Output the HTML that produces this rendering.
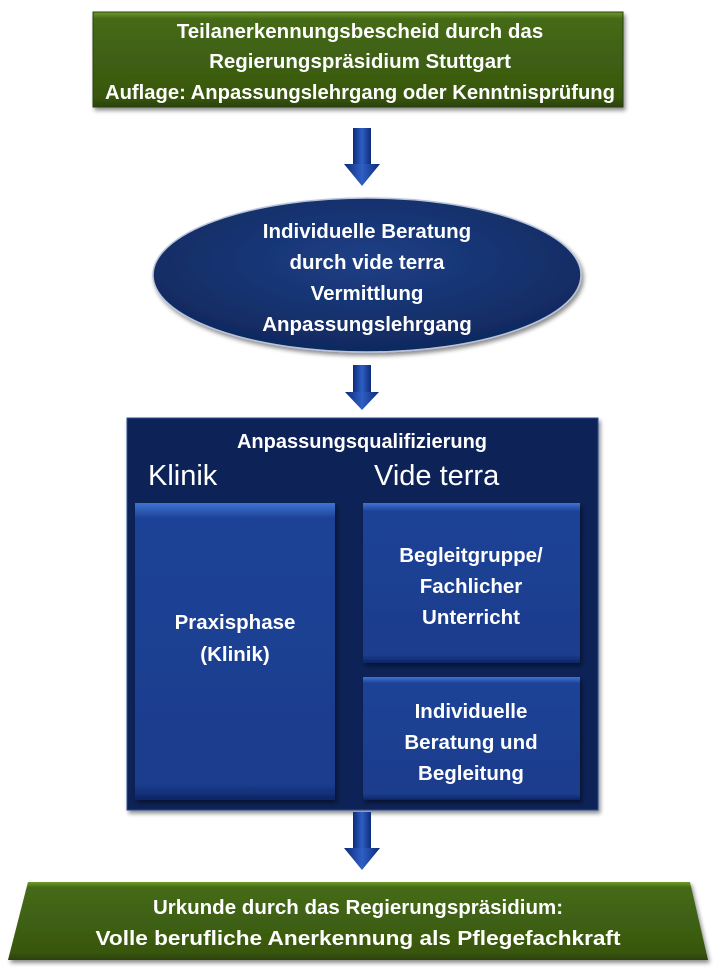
<!DOCTYPE html>
<html><head><meta charset="utf-8"><style>
html,body{margin:0;padding:0;background:#fff;}
svg text{font-family:"Liberation Sans",sans-serif;font-weight:bold;fill:#fff;text-anchor:middle;}
</style></head><body>
<svg width="716" height="970" viewBox="0 0 716 970" xmlns="http://www.w3.org/2000/svg">
<defs>
<linearGradient id="g" x1="0" y1="0" x2="0" y2="1">
<stop offset="0" stop-color="#6f9a2a"/><stop offset="0.07" stop-color="#456a16"/><stop offset="0.9" stop-color="#38570f"/><stop offset="1" stop-color="#2a4108"/></linearGradient>
<linearGradient id="b" x1="0" y1="0" x2="0" y2="1">
<stop offset="0" stop-color="#3f74d4"/><stop offset="0.05" stop-color="#1e4397"/><stop offset="0.95" stop-color="#1a3c8c"/><stop offset="1" stop-color="#0d2566"/></linearGradient>
<linearGradient id="a" x1="0" y1="0" x2="1" y2="0">
<stop offset="0" stop-color="#0c2a7a"/><stop offset="0.5" stop-color="#2e5fc4"/><stop offset="1" stop-color="#0c2a7a"/></linearGradient>
<radialGradient id="e" cx="0.5" cy="0.4" r="0.6">
<stop offset="0" stop-color="#1e3f86"/><stop offset="1" stop-color="#10295f"/></radialGradient>
<filter id="s" x="-5%" y="-5%" width="110%" height="115%"><feDropShadow dx="2" dy="3" stdDeviation="2" flood-opacity="0.45"/></filter>
<g id="arr"><rect x="-9" y="0" width="18" height="38" fill="url(#a)"/><polygon points="-18,36 18,36 0,58" fill="url(#a)"/></g>
<g id="arr2"><rect x="-9" y="0" width="18" height="28" fill="url(#a)"/><polygon points="-17,27 17,27 0,45" fill="url(#a)"/></g>
</defs>
<rect x="93" y="12" width="530" height="95" fill="url(#g)" filter="url(#s)" stroke="#2a420a"/>
<text x="360" y="38" font-size="20.5">Teilanerkennungsbescheid durch das</text>
<text x="360" y="68" font-size="20.5">Regierungspräsidium  Stuttgart</text>
<text x="360" y="99" font-size="20.5" textLength="510" lengthAdjust="spacingAndGlyphs">Auflage: Anpassungslehrgang oder Kenntnisprüfung</text>
<use href="#arr" x="362" y="128"/>
<ellipse cx="367" cy="275" rx="214" ry="77" fill="url(#e)" stroke="#b7c3dc" stroke-width="1.5" filter="url(#s)"/>
<text x="367" y="238" font-size="20.5">Individuelle Beratung</text>
<text x="367" y="269" font-size="20.5">durch vide terra</text>
<text x="367" y="300" font-size="20.5">Vermittlung</text>
<text x="367" y="331" font-size="20.5">Anpassungslehrgang</text>
<use href="#arr2" x="362" y="365"/>
<rect x="127" y="418" width="471" height="392" fill="#0f2457" filter="url(#s)" stroke="#2b4d9c"/>
<text x="362" y="448" font-size="20">Anpassungsqualifizierung</text>
<text x="148" y="485" font-size="29" style="font-weight:normal;text-anchor:start">Klinik</text>
<text x="374" y="485" font-size="29" style="font-weight:normal;text-anchor:start">Vide terra</text>
<rect x="135" y="503" width="200" height="297" fill="url(#b)" filter="url(#s)"/>
<rect x="363" y="503" width="217" height="160" fill="url(#b)" filter="url(#s)"/>
<rect x="363" y="677" width="217" height="123" fill="url(#b)" filter="url(#s)"/>
<text x="235" y="629" font-size="20.5">Praxisphase</text>
<text x="235" y="661" font-size="20.5">(Klinik)</text>
<text x="471" y="562" font-size="20.5">Begleitgruppe/</text>
<text x="471" y="593" font-size="20.5">Fachlicher</text>
<text x="471" y="624" font-size="20.5">Unterricht</text>
<text x="471" y="718" font-size="20.5">Individuelle</text>
<text x="471" y="749" font-size="20.5">Beratung und</text>
<text x="471" y="780" font-size="20.5">Begleitung</text>
<use href="#arr" x="362" y="812"/>
<polygon points="28,882 690,882 708,960 8,960" fill="url(#g)" filter="url(#s)"/>
<text x="358" y="914" font-size="20.5">Urkunde durch das Regierungspräsidium:</text>
<text x="358" y="945" font-size="20.5" textLength="525" lengthAdjust="spacingAndGlyphs">Volle berufliche Anerkennung als Pflegefachkraft</text>
</svg>
</body></html>
